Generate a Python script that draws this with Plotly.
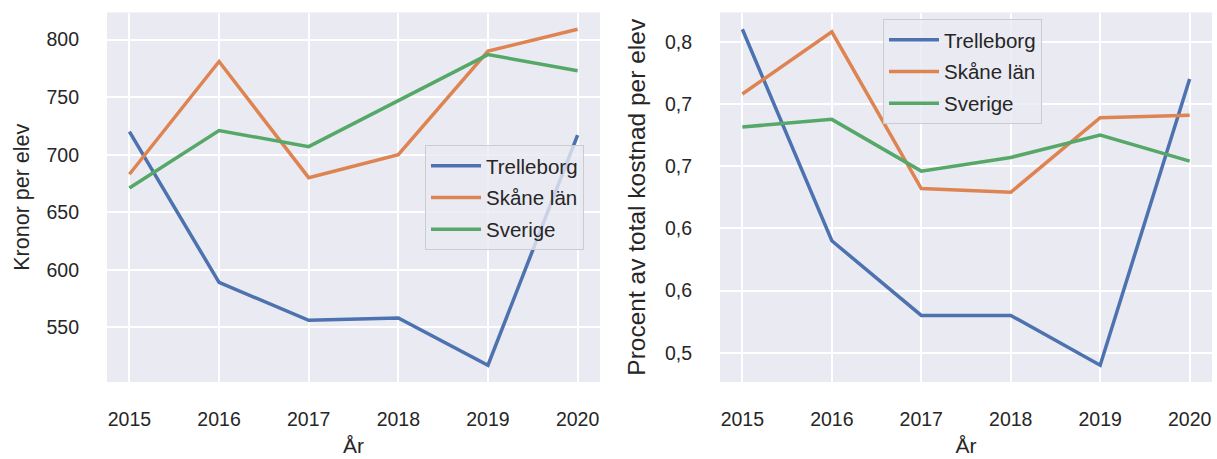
import plotly.graph_objects as go

years = [2015, 2016, 2017, 2018, 2019, 2020]
series_names = ["Trelleborg", "Skåne län", "Sverige"]

kronor_trelleborg = [720, 589, 556, 558, 517, 717]
kronor_skane = [683, 781, 680, 700, 790, 809]
kronor_sverige = [671, 721, 707, 747, 787, 773]

procent_trelleborg = [0.760, 0.590, 0.530, 0.530, 0.490, 0.720]
procent_skane = [0.708, 0.758, 0.632, 0.629, 0.689, 0.691]
procent_sverige = [0.6815, 0.6876, 0.646, 0.657, 0.675, 0.654]

left_yticks = [550, 600, 650, 700, 750, 800]
right_yticks = [0.50, 0.55, 0.60, 0.65, 0.70, 0.75]
right_yticktext = ["0,5", "0,6", "0,6", "0,7", "0,7", "0,8"]

colors = ["#4C72B0", "#DD8452", "#55A868"]
FONT = "Arial, Liberation Sans, sans-serif"
TXT = "#262626"
BG = "#EAEAF2"

fig = go.Figure()

left = [kronor_trelleborg, kronor_skane, kronor_sverige]
right = [procent_trelleborg, procent_skane, procent_sverige]

for i, (name, vals, c) in enumerate(zip(series_names, left, colors)):
    fig.add_trace(go.Scatter(x=years, y=vals, mode="lines", name=name,
                             line=dict(color=c, width=3.5),
                             legendgroup="L%d" % i,
                             xaxis="x", yaxis="y", legend="legend"))
for i, (name, vals, c) in enumerate(zip(series_names, right, colors)):
    fig.add_trace(go.Scatter(x=years, y=vals, mode="lines", name=name,
                             line=dict(color=c, width=3.5),
                             legendgroup="R%d" % i,
                             xaxis="x2", yaxis="y2", legend="legend2"))

W, H = 1217, 459
ydom = [(H - 382) / H, (H - 12.5) / H]

axis_common = dict(showgrid=True, gridcolor="white", gridwidth=1.6, zeroline=False,
                   showline=False, ticks="", tickfont=dict(family=FONT, size=19.5, color=TXT))

legend_common = dict(bgcolor="rgba(234,234,242,0.8)", bordercolor="#CCCCCC", borderwidth=1,
                     font=dict(family=FONT, size=20.5, color=TXT), itemwidth=50,
                     tracegroupgap=2)

fig.update_layout(
    width=W, height=H,
    margin=dict(l=0, r=0, t=0, b=0),
    paper_bgcolor="white", plot_bgcolor=BG,
    font=dict(family=FONT, color=TXT, size=19.5),
    xaxis=dict(domain=[107 / W, 600 / W], range=[2014.75, 2020.25], tickvals=years,
               ticklabelstandoff=23,
               title=dict(text="År", font=dict(size=21), standoff=9), anchor="y", **axis_common),
    yaxis=dict(domain=ydom, range=[502.4, 823.6], tickvals=left_yticks,
               ticklabelstandoff=27,
               title=dict(text="Kronor per elev", font=dict(size=21.5), standoff=10), anchor="x", **axis_common),
    xaxis2=dict(domain=[720 / W, 1212 / W], range=[2014.75, 2020.25], tickvals=years,
                ticklabelstandoff=23,
                title=dict(text="År", font=dict(size=21), standoff=9), anchor="y2", **axis_common),
    yaxis2=dict(domain=ydom, range=[0.4765, 0.7735], tickvals=right_yticks, ticktext=right_yticktext,
                ticklabelstandoff=27,
                title=dict(text="Procent av total kostnad per elev", font=dict(size=24.5), standoff=12),
                anchor="x2", **axis_common),
    legend=dict(x=425 / W, y=(H - 145) / H, xanchor="left", yanchor="top", **legend_common),
    legend2=dict(x=883 / W, y=(H - 19) / H, xanchor="left", yanchor="top", **legend_common),
    showlegend=True,
)

fig.write_html("out.html", config={"displayModeBar": False},
               post_script="document.body.style.margin='0';")
